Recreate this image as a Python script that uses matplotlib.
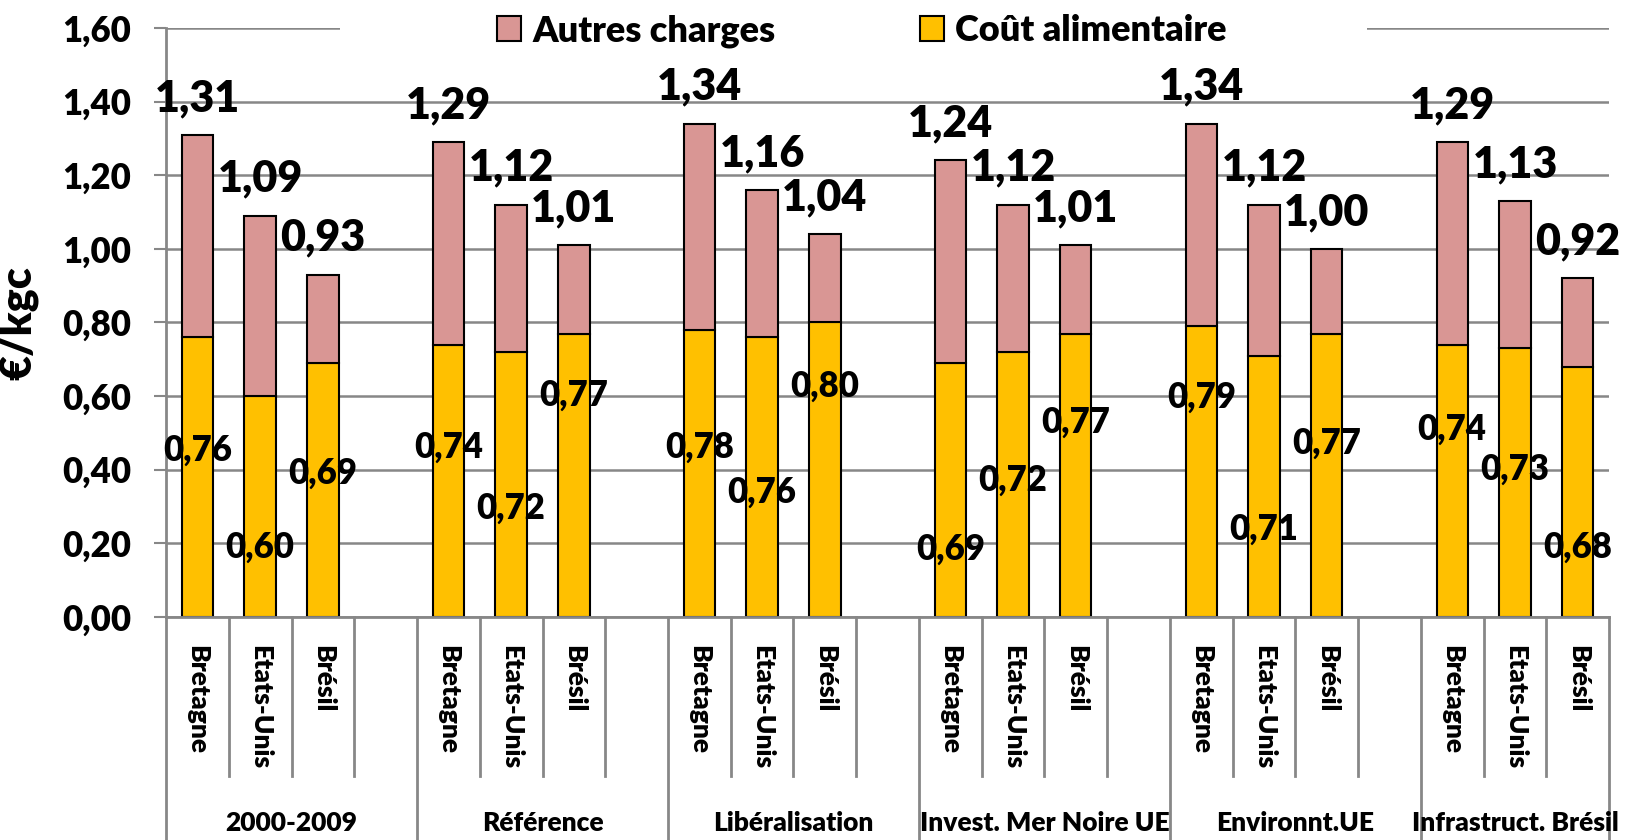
import matplotlib.pyplot as plt
import matplotlib.patches as mpatches
import numpy as np

plt.rcParams['font.family'] = ['Lato', 'DejaVu Sans']

# --- Données (€/kgc) ---
scenarios = ['2000-2009', 'Référence', 'Libéralisation', 'Invest. Mer Noire UE',
             'Environnt.UE', 'Infrastruct. Brésil']
pays = ['Bretagne', 'Etats-Unis', 'Brésil']

cout_total = [[1.31, 1.09, 0.93],
              [1.29, 1.12, 1.01],
              [1.34, 1.16, 1.04],
              [1.24, 1.12, 1.01],
              [1.34, 1.12, 1.00],
              [1.29, 1.13, 0.92]]
cout_alim = [[0.76, 0.60, 0.69],
             [0.74, 0.72, 0.77],
             [0.78, 0.76, 0.80],
             [0.69, 0.72, 0.77],
             [0.79, 0.71, 0.77],
             [0.74, 0.73, 0.68]]
# hauteur (en €/kgc) où sont posées les étiquettes du coût alimentaire
pos_etiq_alim = [[0.454, 0.19, 0.39],
                 [0.46, 0.296, 0.603],
                 [0.46, 0.34, 0.626],
                 [0.185, 0.372, 0.528],
                 [0.598, 0.238, 0.471],
                 [0.511, 0.40, 0.19]]

col_autres = '#D99694'
col_alim = '#FFC000'
col_grille = '#878787'
poids = 'heavy'

fig = plt.figure(figsize=(16.25, 8.4), dpi=100)
ax = fig.add_axes([0.1022, 0.2655, 0.888, 0.7012])

n_slots = len(scenarios) * 4 - 1
for g, sc in enumerate(scenarios):
    for c, p in enumerate(pays):
        x = g * 4 + c
        alim = cout_alim[g][c]
        autres = cout_total[g][c] - alim
        ax.bar(x, alim, width=0.5, color=col_alim, edgecolor='black', linewidth=1.5, zorder=2)
        ax.bar(x, autres, bottom=alim, width=0.5, color=col_autres, edgecolor='black',
               linewidth=1.5, zorder=2)
        ax.text(x, cout_total[g][c] + 0.1, f'{cout_total[g][c]:.2f}'.replace('.', ','),
                ha='center', va='center', fontsize=31, fontweight=poids, zorder=5)
        ax.text(x, pos_etiq_alim[g][c], f'{alim:.2f}'.replace('.', ','),
                ha='center', va='center', fontsize=25, fontweight=poids, zorder=5)

ax.set_xlim(-0.5, n_slots - 0.5)
ax.set_ylim(0, 1.6)
yt = np.arange(0, 1.61, 0.2)
ax.set_yticks(yt)
ax.set_yticklabels([f'{v:.2f}'.replace('.', ',') for v in yt], fontsize=25, fontweight=poids)
ax.tick_params(axis='y', length=9, width=1.5, color=col_grille, pad=16)
ax.yaxis.grid(True, color=col_grille, linewidth=1.8)
ax.set_axisbelow(True)

for s in ['top', 'right']:
    ax.spines[s].set_visible(False)
for s in ['left', 'bottom']:
    ax.spines[s].set_color(col_grille)
    ax.spines[s].set_linewidth(2)

ax.set_ylabel('€/kgc', fontsize=31, fontweight=poids)
ax.yaxis.set_label_coords(-0.0887, 0.499)

# étiquettes pays
xt = [g * 4 + c for g in range(len(scenarios)) for c in range(len(pays))]
ax.set_xticks(xt)
ax.set_xticklabels(pays * len(scenarios), rotation=270, fontsize=19, fontweight=poids,
                   va='top', ha='center')
ax.tick_params(axis='x', length=0, pad=20)

# séparateurs de catégories
trans = ax.get_xaxis_transform()
for k in range(n_slots + 1):
    xb = k - 0.5
    bas = -0.38 if (k % 4 == 0 or k == n_slots) else -0.27
    ax.plot([xb, xb], [0, bas], color=col_grille, linewidth=2, transform=trans, clip_on=False)

# étiquettes scénarios
for g, sc in enumerate(scenarios):
    debut = g * 4 - 0.5
    fin = min(g * 4 + 3.5, n_slots - 0.5)
    ax.text((debut + fin) / 2, -0.35, sc, transform=trans, ha='center', va='center',
            fontsize=19, fontweight=poids)

# fond blanc de la légende
ax.add_patch(mpatches.Rectangle((0.1206, 0.97), 0.7114, 0.06, transform=ax.transAxes,
                                facecolor='white', edgecolor='none', zorder=3, clip_on=False))
h1 = mpatches.Patch(facecolor=col_autres, edgecolor='black', linewidth=1.5)
h2 = mpatches.Patch(facecolor=col_alim, edgecolor='black', linewidth=1.5)
leg = ax.legend([h1, h2], ['Autres charges', 'Coût alimentaire'], loc='center',
                bbox_to_anchor=(0.482, 0.995), ncol=2, frameon=False,
                prop={'size': 26, 'weight': poids}, handlelength=0.67, handleheight=0.67,
                handletextpad=0.3, columnspacing=4.0)
leg.set_zorder(6)

plt.savefig('out.png', dpi=100)
